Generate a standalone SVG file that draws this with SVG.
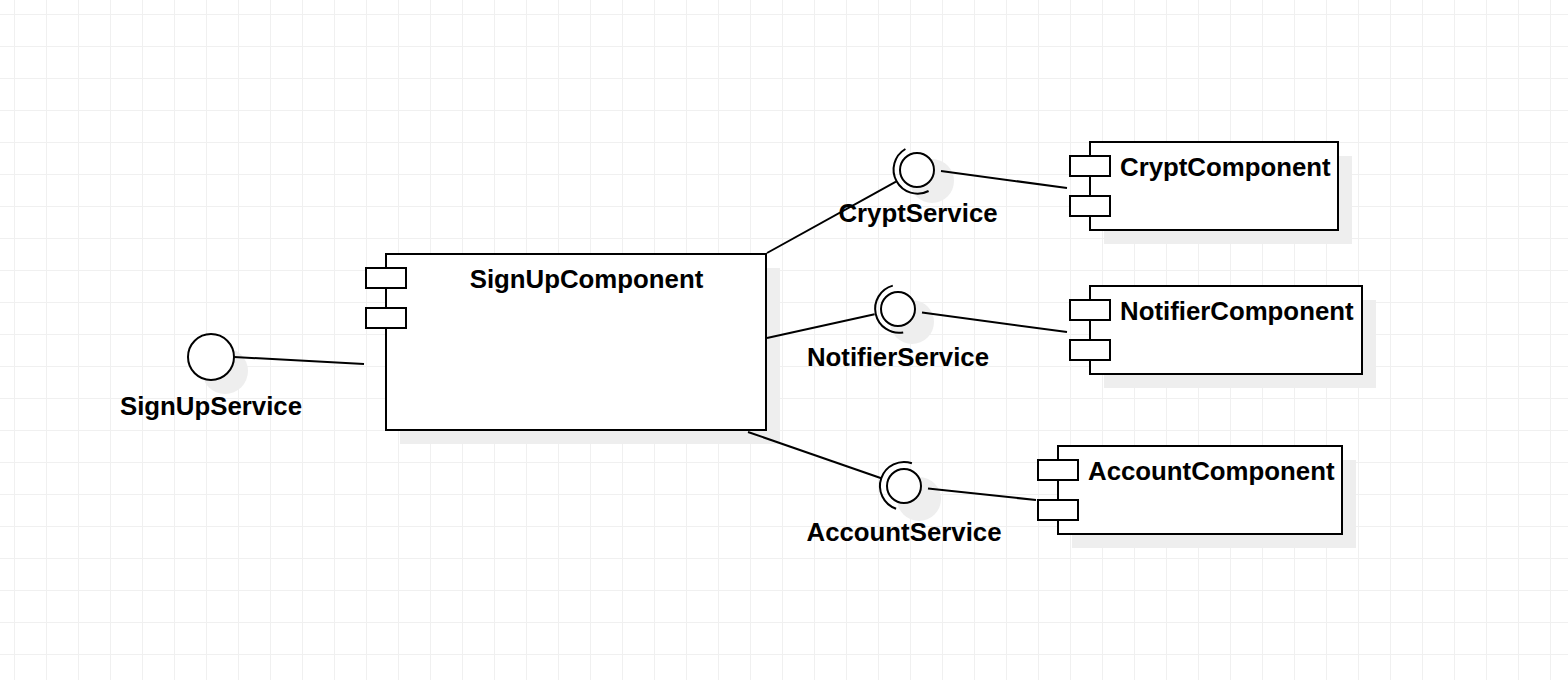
<svg xmlns="http://www.w3.org/2000/svg" width="1568" height="680" viewBox="0 0 1568 680">
  <defs>
    <pattern id="grid" x="14" y="14" width="32" height="32" patternUnits="userSpaceOnUse">
      <path d="M0 0.5H32M0.5 0V32" fill="none" stroke="#f0f0f0" stroke-width="1"/>
    </pattern>
  </defs>
  <style>
    .box{fill:#ffffff;stroke:#000000;stroke-width:2}
    .shadow{fill:#eeeeee;stroke:none}
    .edge{fill:none;stroke:#000000;stroke-width:2}
    .lbl{font-family:"Liberation Sans",Arial,sans-serif;font-weight:bold;font-size:25.8px;fill:#000000}
  </style>
  <rect width="1568" height="680" fill="#ffffff"/>
  <rect width="1568" height="680" fill="url(#grid)"/>

  <g id="SignUpService">
    <circle class="shadow" cx="225" cy="371" r="23"/>
    <circle class="box" cx="211" cy="357" r="23"/>
    <text class="lbl" x="211" y="415" text-anchor="middle">SignUpService</text>
  </g>

  <g id="SignUpComponent">
    <rect class="shadow" x="400" y="268" width="380" height="176"/>
    <rect class="box" x="386" y="254" width="380" height="176"/>
    <rect class="box" x="366" y="268" width="40" height="20"/>
    <rect class="box" x="366" y="308" width="40" height="20"/>
    <text class="lbl" x="586.5" y="288" text-anchor="middle">SignUpComponent</text>
  </g>

  <g id="CryptService">
    <circle class="shadow" cx="932" cy="181" r="22"/>
    <circle class="box" cx="917" cy="170" r="17"/>
    <path class="edge" d="M928.6 191 A24 24 0 0 1 905.4 149"/>
    <text class="lbl" x="918" y="222" text-anchor="middle">CryptService</text>
  </g>

  <g id="NotifierService">
    <circle class="shadow" cx="912" cy="322" r="22"/>
    <circle class="box" cx="898" cy="309" r="17"/>
    <path class="edge" d="M903.2 332.4 A24 24 0 0 1 892.8 285.6"/>
    <text class="lbl" x="898" y="366" text-anchor="middle">NotifierService</text>
  </g>

  <g id="AccountService">
    <circle class="shadow" cx="919" cy="499" r="22"/>
    <circle class="box" cx="904" cy="486" r="17"/>
    <path class="edge" d="M896.1 508.7 A24 24 0 0 1 911.9 463.3"/>
    <text class="lbl" x="904" y="541" text-anchor="middle">AccountService</text>
  </g>

  <g id="CryptComponent">
    <rect class="shadow" x="1104" y="156" width="248" height="88"/>
    <rect class="box" x="1090" y="142" width="248" height="88"/>
    <rect class="box" x="1070" y="156" width="40" height="20"/>
    <rect class="box" x="1070" y="196" width="40" height="20"/>
    <text class="lbl" x="1120" y="176">CryptComponent</text>
  </g>

  <g id="NotifierComponent">
    <rect class="shadow" x="1104" y="300" width="272" height="88"/>
    <rect class="box" x="1090" y="286" width="272" height="88"/>
    <rect class="box" x="1070" y="300" width="40" height="20"/>
    <rect class="box" x="1070" y="340" width="40" height="20"/>
    <text class="lbl" x="1120" y="320">NotifierComponent</text>
  </g>

  <g id="AccountComponent">
    <rect class="shadow" x="1072" y="460" width="284" height="88"/>
    <rect class="box" x="1058" y="446" width="284" height="88"/>
    <rect class="box" x="1038" y="460" width="40" height="20"/>
    <rect class="box" x="1038" y="500" width="40" height="20"/>
    <text class="lbl" x="1088" y="480">AccountComponent</text>
  </g>

  <g id="connectors">
    <line class="edge" x1="234" y1="357" x2="364" y2="364"/>
    <line class="edge" x1="767" y1="253" x2="896" y2="181.6"/>
    <line class="edge" x1="767" y1="338" x2="874.6" y2="314.2"/>
    <line class="edge" x1="748" y1="432" x2="881.3" y2="478.2"/>
    <line class="edge" x1="941" y1="171" x2="1067" y2="188"/>
    <line class="edge" x1="922" y1="312.5" x2="1067" y2="332"/>
    <line class="edge" x1="928" y1="488.5" x2="1036" y2="500"/>
  </g>
</svg>
